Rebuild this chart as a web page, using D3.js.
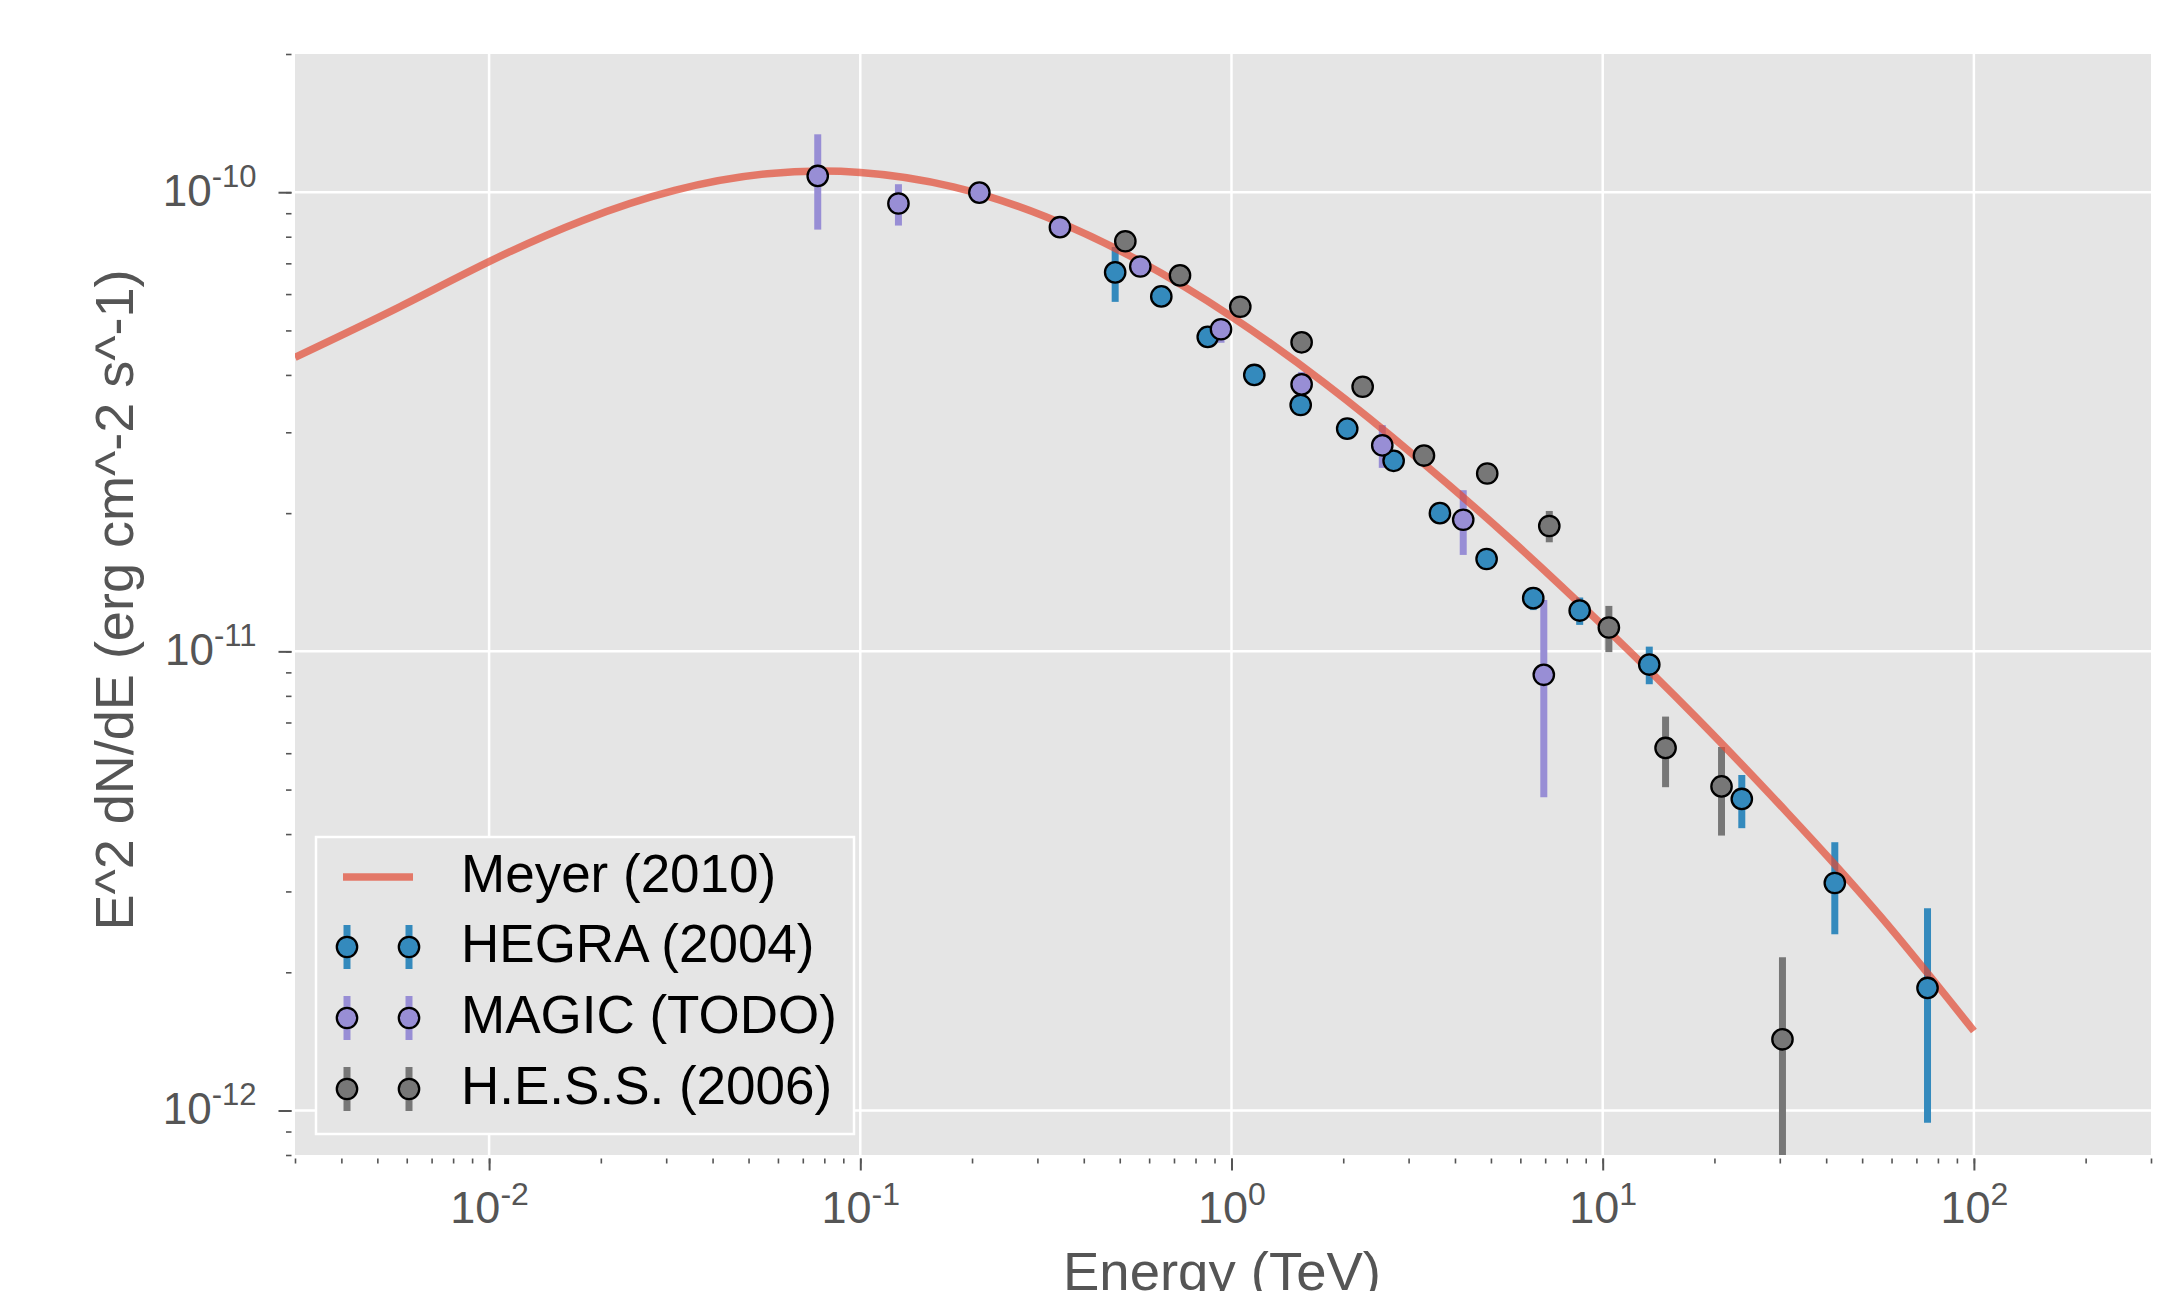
<!DOCTYPE html>
<html>
<head>
<meta charset="utf-8">
<script src="https://cdn.jsdelivr.net/npm/d3@7"></script>
<style>
  body { margin: 0; background: #fff; }
  svg { display: block; }
</style>
</head>
<body>
<script>
// Crab spectrum: model curve + three instruments

// Meyer (2010) curve
const meyerE = [0.003, 0.00562, 0.01, 0.0178, 0.0316, 0.0562, 0.1, 0.178, 0.316, 0.562, 1, 1.78, 3.16, 5.62, 10, 17.8, 31.6, 56.2, 100];
const meyerF = [4.37e-11, 5.58e-11, 7.06e-11, 8.67e-11, 1.009e-10, 1.097e-10, 1.104e-10, 1.027e-10, 8.84e-11, 7.10e-11, 5.36e-11, 3.84e-11, 2.64e-11, 1.76e-11, 1.139e-11, 7.20e-12, 4.43e-12, 2.64e-12, 1.49e-12];

// HEGRA (2004)
const hegraE  = [0.486, 0.647, 0.863, 1.152, 1.536, 2.05, 2.734, 3.643, 4.867, 6.50, 8.67, 13.35, 23.7, 42.2, 75.0];
const hegraF  = [6.69e-11, 5.93e-11, 4.84e-11, 4.00e-11, 3.44e-11, 3.055e-11, 2.60e-11, 2.00e-11, 1.589e-11, 1.306e-11, 1.227e-11, 9.36e-12, 4.77e-12, 3.13e-12, 1.849e-12];
const hegraLo = [5.77e-11, 5.70e-11, 4.65e-11, 3.85e-11, 3.30e-11, 2.93e-11, 2.50e-11, 1.92e-11, 1.53e-11, 1.23e-11, 1.142e-11, 8.48e-12, 4.12e-12, 2.42e-12, 9.40e-13];
const hegraHi = [7.60e-11, 6.17e-11, 5.03e-11, 4.16e-11, 3.58e-11, 3.18e-11, 2.70e-11, 2.08e-11, 1.65e-11, 1.38e-11, 1.31e-11, 1.024e-11, 5.38e-12, 3.84e-12, 2.756e-12];

// MAGIC (TODO)
const magicE  = [0.0768, 0.1267, 0.2093, 0.345, 0.568, 0.937, 1.545, 2.548, 4.21, 6.94];
const magicF  = [1.085e-10, 9.45e-11, 9.98e-11, 8.39e-11, 6.89e-11, 5.03e-11, 3.815e-11, 2.81e-11, 1.935e-11, 8.89e-12];
const magicLo = [8.29e-11, 8.46e-11, 9.50e-11, 8.00e-11, 6.60e-11, 4.70e-11, 3.60e-11, 2.51e-11, 1.622e-11, 4.81e-12];
const magicHi = [1.337e-10, 1.041e-10, 1.05e-10, 8.80e-11, 7.20e-11, 5.30e-11, 4.06e-11, 3.11e-11, 2.244e-11, 1.294e-11];

// H.E.S.S. (2006)
const hessE  = [0.5176, 0.7266, 1.056, 1.545, 2.256, 3.30, 4.886, 7.18, 10.39, 14.77, 20.9, 30.5];
const hessF  = [7.82e-11, 6.59e-11, 5.63e-11, 4.71e-11, 3.77e-11, 2.67e-11, 2.44e-11, 1.875e-11, 1.127e-11, 6.16e-12, 5.08e-12, 1.429e-12];
const hessLo = [7.55e-11, 6.35e-11, 5.42e-11, 4.53e-11, 3.62e-11, 2.56e-11, 2.34e-11, 1.728e-11, 9.96e-12, 5.06e-12, 3.97e-12, 5.0e-13];
const hessHi = [8.10e-11, 6.83e-11, 5.84e-11, 4.89e-11, 3.92e-11, 2.78e-11, 2.54e-11, 2.022e-11, 1.256e-11, 7.21e-12, 6.19e-12, 2.156e-12];

const xMajor = [1e-2, 1e-1, 1, 10, 100];
const xMajorExp = ["-2", "-1", "0", "1", "2"];
const yMajor = [1e-12, 1e-11, 1e-10];
const yMajorExp = ["-12", "-11", "-10"];

const modelName = "Meyer (2010)";
const xTitle = "Energy (TeV)";
const yTitle = "E^2 dN/dE (erg cm^-2 s^-1)";

const series = [
  {name: "HEGRA (2004)", color: "#348ABD", E: hegraE, F: hegraF, lo: hegraLo, hi: hegraHi},
  {name: "MAGIC (TODO)", color: "#988ED5", E: magicE, F: magicF, lo: magicLo, hi: magicHi},
  {name: "H.E.S.S. (2006)", color: "#777777", E: hessE, F: hessF, lo: hessLo, hi: hessHi}
];

const W = 2181, H = 1291;
const pL = 295, pR = 2151, pT = 54, pB = 1155;
const font = "'Liberation Sans', Arial, Helvetica, sans-serif";
const tickColor = "#555555";

const svg = d3.select("body").append("svg")
  .attr("width", W).attr("height", H)
  .style("font-family", font);

svg.append("rect").attr("width", W).attr("height", H).attr("fill", "#fff");

const x = d3.scaleLog().domain([3e-3, 300]).range([pL, pR]);
const y = d3.scaleLog().domain([8e-13, 2e-10]).range([pB, pT]);

// minor tick positions: every m * 10^k inside the view
function logTicks(lo, hi) {
  const out = [];
  for (let k = Math.floor(Math.log10(lo)); k <= Math.ceil(Math.log10(hi)); k++) {
    for (let m = 1; m <= 9; m++) {
      const v = m * Math.pow(10, k);
      if (v >= lo * 0.999 && v <= hi * 1.001) out.push(v);
    }
  }
  return out;
}

// plot background
svg.append("rect")
  .attr("x", pL).attr("y", pT)
  .attr("width", pR - pL).attr("height", pB - pT)
  .attr("fill", "#E5E5E5");

// grid
const grid = svg.append("g").attr("stroke", "#fff").attr("stroke-width", 2.5);
grid.selectAll(".gx").data(xMajor).enter().append("line")
  .attr("x1", d => x(d)).attr("x2", d => x(d))
  .attr("y1", pT).attr("y2", pB);
grid.selectAll(".gy").data(yMajor).enter().append("line")
  .attr("x1", pL).attr("x2", pR)
  .attr("y1", d => y(d)).attr("y2", d => y(d));

// axes
const xMinorAxis = d3.axisBottom(x).tickValues(logTicks(3e-3, 300)).tickSize(5).tickFormat("");
const xMajorAxis = d3.axisBottom(x).tickValues(xMajor).tickSize(12).tickFormat("");
const yMinorAxis = d3.axisLeft(y).tickValues(logTicks(8e-13, 2e-10)).tickSize(5.5).tickFormat("");
const yMajorAxis = d3.axisLeft(y).tickValues(yMajor).tickSize(13).tickFormat("");

function styleAxis(g, w) {
  g.select(".domain").remove();
  g.selectAll(".tick line").attr("stroke", tickColor).attr("stroke-width", w);
}

svg.append("g").attr("transform", `translate(0,${pB + 3.5})`).call(xMinorAxis).call(g => styleAxis(g, 1.6));
const gx = svg.append("g").attr("transform", `translate(0,${pB + 3.5})`).call(xMajorAxis).call(g => styleAxis(g, 2));
svg.append("g").attr("transform", `translate(${pL - 3.5},0)`).call(yMinorAxis).call(g => styleAxis(g, 1.6));
const gy = svg.append("g").attr("transform", `translate(${pL - 3.5},0)`).call(yMajorAxis).call(g => styleAxis(g, 2));

// power-of-ten labels with superscripts
gx.selectAll(".tick text")
  .attr("y", 64.5).attr("dy", null)
  .attr("fill", tickColor)
  .style("font-family", font)
  .attr("text-anchor", "middle")
  .each(function(d, i) {
    const t = d3.select(this);
    t.append("tspan").attr("font-size", 45).text("10");
    t.append("tspan").attr("font-size", 32).attr("dy", -17.7).text(xMajorExp[i]);
  });

gy.selectAll(".tick text")
  .attr("x", -35).attr("y", 13).attr("dy", null)
  .attr("fill", tickColor)
  .style("font-family", font)
  .attr("text-anchor", "end")
  .each(function(d, i) {
    const t = d3.select(this);
    t.append("tspan").attr("font-size", 44).text("10");
    t.append("tspan").attr("font-size", 31).attr("dy", -19).text(yMajorExp[i]);
  });

// axis titles (the x title runs off the bottom edge, as in the original)
svg.append("text")
  .attr("x", (pL + pR) / 2 - 1).attr("y", 1290)
  .attr("text-anchor", "middle")
  .attr("font-size", 54.5).attr("fill", tickColor)
  .text(xTitle);

svg.append("text")
  .attr("transform", `translate(133,600) rotate(-90)`)
  .attr("text-anchor", "middle")
  .attr("font-size", 54).attr("fill", tickColor)
  .text(yTitle);

// data layer, clipped to the axes
svg.append("clipPath").attr("id", "clip")
  .append("rect").attr("x", pL).attr("y", pT)
  .attr("width", pR - pL).attr("height", pB - pT);
const plot = svg.append("g").attr("clip-path", "url(#clip)");

// error bars first (they sit below the model line)
series.forEach(s => {
  plot.append("g").selectAll("line")
    .data(s.E.map((e, i) => ({e: e, lo: s.lo[i], hi: s.hi[i]})))
    .enter().append("line")
    .attr("x1", d => x(d.e)).attr("x2", d => x(d.e))
    .attr("y1", d => y(d.lo)).attr("y2", d => y(d.hi))
    .attr("stroke", s.color).attr("stroke-width", 7);
});

// model line
const line = d3.line()
  .x(d => x(d[0])).y(d => y(d[1]))
  .curve(d3.curveNatural);
plot.append("path")
  .datum(meyerE.map((e, i) => [e, meyerF[i]]))
  .attr("d", line)
  .attr("fill", "none")
  .attr("stroke", "#E24A33").attr("stroke-opacity", 0.7)
  .attr("stroke-width", 7.5);

// markers on top
series.forEach(s => {
  plot.append("g").selectAll("circle")
    .data(s.E.map((e, i) => ({e: e, f: s.F[i]})))
    .enter().append("circle")
    .attr("cx", d => x(d.e)).attr("cy", d => y(d.f))
    .attr("r", 10.2)
    .attr("fill", s.color)
    .attr("stroke", "#000").attr("stroke-width", 2.3);
});

// legend
const legend = svg.append("g");
legend.append("rect")
  .attr("x", 316).attr("y", 837).attr("width", 538).attr("height", 297)
  .attr("fill", "#E5E5E5").attr("stroke", "#fff").attr("stroke-width", 2.5);

const rowY = [877, 947, 1018, 1089];
legend.append("line")
  .attr("x1", 343).attr("x2", 413).attr("y1", rowY[0]).attr("y2", rowY[0])
  .attr("stroke", "#E24A33").attr("stroke-opacity", 0.7).attr("stroke-width", 7.5);
legend.append("text")
  .attr("x", 461).attr("y", rowY[0] + 15)
  .attr("font-size", 53).attr("fill", "#000")
  .text(modelName);

series.forEach((s, i) => {
  const cy = rowY[i + 1];
  [347, 409].forEach(cx => {
    legend.append("line")
      .attr("x1", cx).attr("x2", cx).attr("y1", cy - 22).attr("y2", cy + 22)
      .attr("stroke", s.color).attr("stroke-width", 7);
    legend.append("circle")
      .attr("cx", cx).attr("cy", cy).attr("r", 10.2)
      .attr("fill", s.color).attr("stroke", "#000").attr("stroke-width", 2.3);
  });
  legend.append("text")
    .attr("x", 461).attr("y", cy + 15)
    .attr("font-size", 53).attr("fill", "#000")
    .text(s.name);
});
</script>
</body>
</html>
